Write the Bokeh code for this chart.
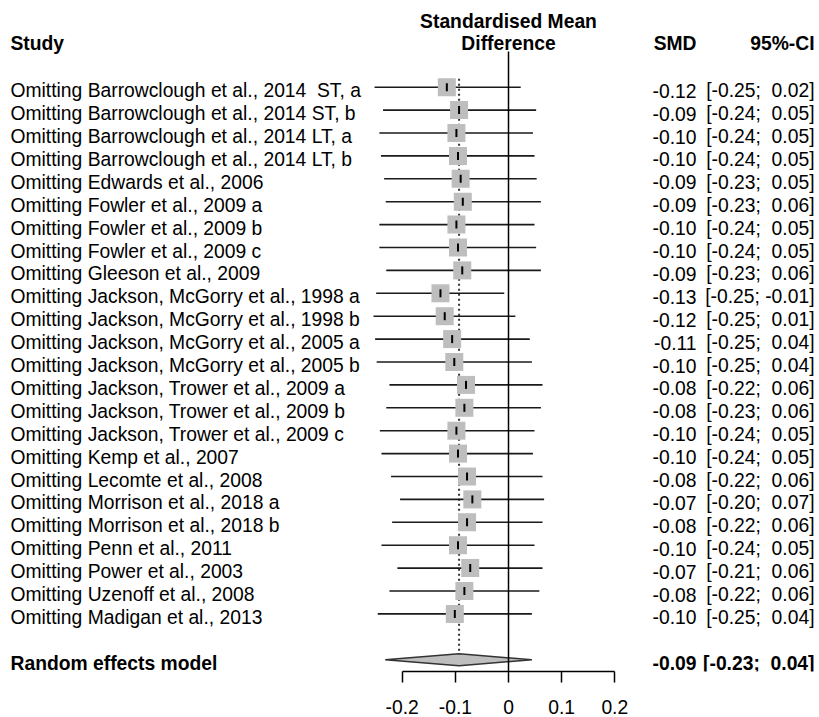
import numpy as np
from bokeh.plotting import figure
from bokeh.models import Range1d, LinearAxis, FixedTicker, PrintfTickFormatter
from bokeh.core.properties import value
from bokeh.embed import file_html
from bokeh.resources import INLINE

# ---------------- data ----------------
studies = [
    "Omitting Barrowclough et al., 2014\u00a0 ST, a",
    "Omitting Barrowclough et al., 2014 ST, b",
    "Omitting Barrowclough et al., 2014 LT, a",
    "Omitting Barrowclough et al., 2014 LT, b",
    "Omitting Edwards et al., 2006",
    "Omitting Fowler et al., 2009 a",
    "Omitting Fowler et al., 2009 b",
    "Omitting Fowler et al., 2009 c",
    "Omitting Gleeson et al., 2009",
    "Omitting Jackson, McGorry et al., 1998 a",
    "Omitting Jackson, McGorry et al., 1998 b",
    "Omitting Jackson, McGorry et al., 2005 a",
    "Omitting Jackson, McGorry et al., 2005 b",
    "Omitting Jackson, Trower et al., 2009 a",
    "Omitting Jackson, Trower et al., 2009 b",
    "Omitting Jackson, Trower et al., 2009 c",
    "Omitting Kemp et al., 2007",
    "Omitting Lecomte et al., 2008",
    "Omitting Morrison et al., 2018 a",
    "Omitting Morrison et al., 2018 b",
    "Omitting Penn et al., 2011",
    "Omitting Power et al., 2003",
    "Omitting Uzenoff et al., 2008",
    "Omitting Madigan et al., 2013",
]
smd = [-0.116, -0.093, -0.098, -0.095, -0.090, -0.086, -0.098, -0.095,
       -0.087, -0.128, -0.120, -0.106, -0.102, -0.080, -0.083, -0.098,
       -0.095, -0.078, -0.068, -0.078, -0.095, -0.072, -0.083, -0.101]
ci_lower = [-0.252, -0.236, -0.243, -0.240, -0.234, -0.231, -0.243, -0.243,
            -0.230, -0.249, -0.254, -0.251, -0.248, -0.224, -0.230, -0.242,
            -0.239, -0.221, -0.204, -0.219, -0.239, -0.209, -0.224, -0.246]
ci_upper = [0.023, 0.052, 0.046, 0.049, 0.053, 0.061, 0.049, 0.052,
            0.061, -0.008, 0.013, 0.040, 0.044, 0.064, 0.061, 0.049,
            0.046, 0.064, 0.067, 0.064, 0.049, 0.064, 0.058, 0.044]
pooled_label = "Random effects model"
pooled_smd = -0.093
pooled_lower = -0.232
pooled_upper = 0.044
x_ticks = [-0.2, -0.1, 0.0, 0.1, 0.2]
x_tick_labels = ["-0.2", "-0.1", "0", "0.1", "0.2"]
header_study = "Study"
header_effect = ["Standardised Mean", "Difference"]
header_smd = "SMD"
header_ci = "95%-CI"

# ---------------- layout ----------------
FONT = "Liberation Sans"
FS = "19.3px"
W, H = 819, 717
BOTTOM = 46
FH = H - BOTTOM
PX_PER_UNIT = 531.5
X_ZERO_PX = 508.0
ROW1_PX = 86.7
ROW_PX = 22.9


def fx(px):
    return (px - X_ZERO_PX) / PX_PER_UNIT


def fy(px):
    return 1 + (px - ROW1_PX) / ROW_PX


n = len(studies)
rows = list(range(1, n + 1))
pooled_row = n + 2
TXT_OFF = 3.5 / ROW_PX


def fmt_ci(lo, hi):
    return "[%s; %s]" % (("%.2f" % lo).rjust(5, "\u00a0"), ("%.2f" % hi).rjust(5, "\u00a0"))


p = figure(width=W, height=H, output_backend="svg", toolbar_location=None,
           x_range=Range1d(fx(0), fx(W)), y_range=Range1d(fy(FH), fy(0)),
           x_axis_location=None, y_axis_location=None,
           min_border_left=0, min_border_right=0, min_border_top=0,
           min_border_bottom=BOTTOM)
p.outline_line_color = None
p.background_fill_color = "white"
p.border_fill_color = "white"
p.xgrid.visible = False
p.ygrid.visible = False

ax = LinearAxis(ticker=FixedTicker(ticks=x_ticks),
                formatter=PrintfTickFormatter(format="%g"),
                bounds=(x_ticks[0], x_ticks[-1]),
                major_label_overrides={t: l for t, l in zip(x_ticks, x_tick_labels)},
                axis_line_width=1.5, axis_line_color="black",
                major_tick_line_width=1.5, major_tick_line_color="black",
                major_tick_in=0, major_tick_out=11,
                minor_tick_line_color=None,
                major_label_text_font=FONT, major_label_text_font_size=FS,
                major_label_text_color="black", major_label_standoff=17)
p.add_layout(ax, "below")

# reference (pooled) dotted line
p.segment(x0=[pooled_smd], y0=[fy(78.3)], x1=[pooled_smd], y1=[pooled_row - 0.26],
          line_color="#333333", line_width=2, line_dash="2 3")

# CI lines
p.segment(x0=ci_lower, y0=rows, x1=ci_upper, y1=rows, line_color="#1a1a1a", line_width=1.6)

# boxes
p.scatter(x=smd, y=rows, marker="square", size=18, fill_color="#BEBEBE", line_color=None)
p.scatter(x=smd, y=rows, marker="dash", angle=np.pi / 2, size=8,
          line_color="black", line_width=2)

# diamond
dh = 6 / ROW_PX
p.patch(x=[pooled_lower, pooled_smd, pooled_upper, pooled_smd],
        y=[pooled_row, pooled_row - dh, pooled_row, pooled_row + dh],
        fill_color="#BEBEBE", line_color="#333333", line_width=1.5)

# zero line
p.segment(x0=[0], y0=[fy(51)], x1=[0], y1=[fy(FH)], line_color="black", line_width=1.5)

# texts
common = dict(text_font=value(FONT), text_font_size=FS, text_color="black",
              text_baseline="middle")
ty = [r + TXT_OFF for r in rows]
p.text(x=[fx(10)] * n, y=ty, text=studies, text_align="left", **common)
p.text(x=[fx(696)] * n, y=ty, text=["%.2f" % v for v in smd], text_align="right", **common)
p.text(x=[fx(814)] * n, y=ty, text=[fmt_ci(a, b) for a, b in zip(ci_lower, ci_upper)],
       text_align="right", **common)

py = pooled_row + TXT_OFF
p.text(x=[fx(10)], y=[py], text=[pooled_label], text_align="left",
       text_font_style="bold", **common)
p.text(x=[fx(696)], y=[py], text=["%.2f" % pooled_smd], text_align="right",
       text_font_style="bold", **common)
p.text(x=[fx(814)], y=[py], text=[fmt_ci(pooled_lower, pooled_upper)], text_align="right",
       text_font_style="bold", **common)

# headers
hy = fy(43.3)
p.text(x=[fx(10)], y=[hy], text=[header_study], text_align="left", text_font_style="bold", **common)
p.text(x=[0, 0], y=[fy(20.5), hy], text=header_effect, text_align="center",
       text_font_style="bold", **common)
p.text(x=[fx(696)], y=[hy], text=[header_smd], text_align="right", text_font_style="bold", **common)
p.text(x=[fx(814)], y=[hy], text=[header_ci], text_align="right", text_font_style="bold", **common)

open("out.html", "w").write(file_html(p, INLINE))
